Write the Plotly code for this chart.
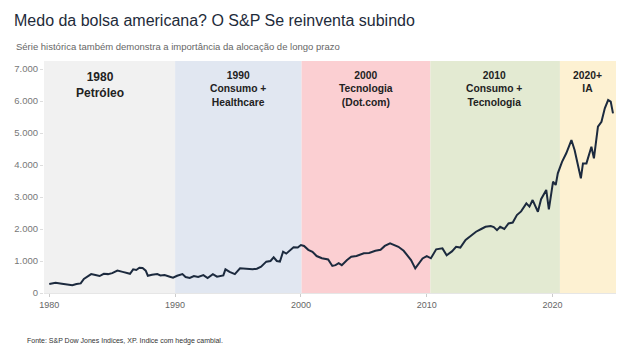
import plotly.graph_objects as go

# ---- data ----
dates = [
    "1980-01-01", "1980-07-01", "1981-01-01", "1981-07-01", "1981-11-01", "1982-03-01",
    "1982-07-01", "1982-10-01", "1983-02-01", "1983-05-01", "1983-09-01", "1984-01-01",
    "1984-05-01", "1984-09-01", "1985-01-01", "1985-06-01", "1985-11-01", "1986-03-01",
    "1986-06-01", "1986-09-01", "1986-12-01", "1987-03-01", "1987-06-01", "1987-09-01",
    "1987-11-01", "1988-03-01", "1988-08-01", "1988-11-01", "1989-03-01", "1989-08-01",
    "1989-11-01", "1990-03-01", "1990-08-01", "1990-11-01", "1991-03-01", "1991-07-01",
    "1991-11-01", "1992-04-01", "1992-08-01", "1993-01-01", "1993-05-01", "1993-11-01",
    "1994-01-01", "1994-05-01", "1994-10-01", "1995-03-01", "1995-09-01", "1996-03-01",
    "1996-07-01", "1996-11-01", "1997-04-01", "1997-08-01", "1997-11-01", "1998-02-01",
    "1998-05-01", "1998-08-01", "1998-11-01", "1999-03-01", "1999-06-01", "1999-10-01",
    "2000-01-01", "2000-04-01", "2000-08-01", "2000-12-01", "2001-04-01", "2001-09-01",
    "2002-03-01", "2002-07-01", "2002-10-01", "2003-01-01", "2003-04-01", "2003-09-01",
    "2004-01-01", "2004-06-01", "2005-01-01", "2005-06-01", "2005-12-01", "2006-05-01",
    "2006-09-01", "2007-02-01", "2007-06-01", "2007-10-01", "2008-03-01", "2008-06-01",
    "2008-10-01", "2009-02-01", "2009-06-01", "2009-09-01", "2010-01-01", "2010-05-01",
    "2010-10-01", "2011-04-01", "2011-08-01", "2012-01-01", "2012-05-01", "2012-09-01",
    "2013-02-01", "2013-08-01", "2013-12-01", "2014-05-01", "2014-09-01", "2015-02-01",
    "2015-05-01", "2015-08-01", "2015-11-01", "2016-03-01", "2016-07-01", "2016-11-01",
    "2017-03-01", "2017-07-01", "2017-12-01", "2018-03-01", "2018-06-01", "2018-11-01",
    "2019-02-01", "2019-07-01", "2019-09-15", "2020-01-15", "2020-04-01", "2020-06-01",
    "2020-10-01", "2021-02-01", "2021-07-01", "2021-10-01", "2022-01-10", "2022-04-01",
    "2022-06-01", "2022-09-10", "2023-02-01", "2023-04-15", "2023-08-10", "2023-11-20",
    "2024-02-25", "2024-06-01", "2024-08-15", "2024-10-20",
]
values = [
    280, 320, 290, 260, 240, 280,
    300, 440, 530, 590, 560, 530,
    600, 590, 620, 700, 660, 620,
    600, 740, 720, 790, 780, 700,
    540, 570, 590, 550, 560, 510,
    480, 540, 590, 500, 470, 530,
    500, 560, 470, 590, 510, 550,
    740, 660, 590, 770, 760, 740,
    760, 820, 980, 1000, 1115, 1000,
    980, 1290, 1230, 1350, 1430, 1420,
    1500, 1470, 1350, 1290, 1155, 1085,
    1050, 845, 870, 930, 870, 1030,
    1135, 1155, 1240, 1250, 1320, 1350,
    1470, 1550, 1500, 1445, 1320, 1200,
    1030, 770, 950, 1080, 1155, 1085,
    1365, 1395, 1180, 1300, 1445, 1420,
    1655, 1800, 1915, 2000, 2070, 2090,
    2060, 1965, 2070, 2000, 2175, 2200,
    2435, 2550, 2800, 2700, 2905, 2540,
    2930, 3220, 2615, 3480, 3375, 3740,
    4100, 4365, 4780, 4470, 4000, 3585,
    4050, 4050, 4570, 4210, 5200, 5350,
    5770, 6030, 5980, 5615,
]

eras_start = ["1979-08-01", "1990-01-01", "2000-01-20", "2010-04-15", "2020-08-01"]
eras_end = ["1990-01-01", "2000-01-20", "2010-04-15", "2020-08-01", "2025-01-15"]
eras_label_x = ["1984-01-01", "1995-01-10", "2005-03-01", "2015-05-15", "2022-10-15"]
eras_text = ["<b>1980<br>Petróleo</b>", "<b>1990<br>Consumo +<br>Healthcare</b>",
             "<b>2000<br>Tecnologia<br>(Dot.com)</b>", "<b>2010<br>Consumo +<br>Tecnologia</b>",
             "<b>2020+<br>IA</b>"]
eras_color = ["#f1f1f1", "#e1e7f1", "#fbcfd2", "#e3ead2", "#fdf1d2"]
eras_font = [12, 10.3, 10.3, 10.3, 10.3]

y_ticks = [0, 1000, 2000, 3000, 4000, 5000, 6000, 7000]

fig = go.Figure()

for s, e, c in zip(eras_start, eras_end, eras_color):
    fig.add_shape(type="rect", xref="x", yref="paper", x0=s, x1=e, y0=0, y1=1,
                  fillcolor=c, line_width=0, layer="below")

fig.add_trace(go.Scatter(x=dates, y=values, mode="lines",
                         line=dict(color="#1c2a3e", width=2), showlegend=False))

for lx, t, fs in zip(eras_label_x, eras_text, eras_font):
    fig.add_annotation(x=lx, xref="x", y=1, yref="paper", yanchor="top", yshift=-7,
                       text=t, showarrow=False, align="center",
                       font=dict(family="Liberation Sans, Arial", size=fs, color="#222222"))

fig.add_annotation(x=-0.0524, xref="paper", y=1, yref="paper", xanchor="left",
                   yanchor="middle", yshift=15, showarrow=False,
                   text="Série histórica também demonstra a importância da alocação de longo prazo",
                   font=dict(family="Liberation Sans, Arial", size=9.5, color="#666666"))
fig.add_annotation(x=-0.0332, xref="paper", y=0, yref="paper", xanchor="left",
                   yanchor="middle", yshift=-48, showarrow=False,
                   text="Fonte: S&P Dow Jones Indices, XP. Indice com hedge cambial.",
                   font=dict(family="Liberation Sans, Arial", size=7, color="#333333"))

fig.update_layout(
    width=639, height=357,
    margin=dict(l=36, r=31, t=53, b=72),
    paper_bgcolor="white", plot_bgcolor="white",
    separators=",.",
    title=dict(text="Medo da bolsa americana? O S&P Se reinventa subindo",
               x=6 / 639, xanchor="left", xref="container",
               y=1 - 12 / 357, yanchor="middle", yref="container",
               font=dict(family="Liberation Sans, Arial", size=16, color="#1e2b3a")),
    xaxis=dict(type="date", range=["1979-08-01", "2025-01-15"], tickformat="%Y",
               dtick="M120", tick0="1980-01-01", showgrid=False, zeroline=False,
               ticks="outside", ticklen=3, tickcolor="#cccccc", automargin=False,
               showline=True, linecolor="#e6e6e6", linewidth=1,
               tickfont=dict(family="Liberation Sans, Arial", size=9, color="#666666")),
    yaxis=dict(range=[0, 7250], tickvals=y_ticks, tickformat=",d", showgrid=False,
               zeroline=False, ticks="outside", ticklen=3, tickcolor="#dddddd",
               automargin=False,
               tickfont=dict(family="Liberation Sans, Arial", size=9.5, color="#777777")),
)

fig.write_html("out.html")
